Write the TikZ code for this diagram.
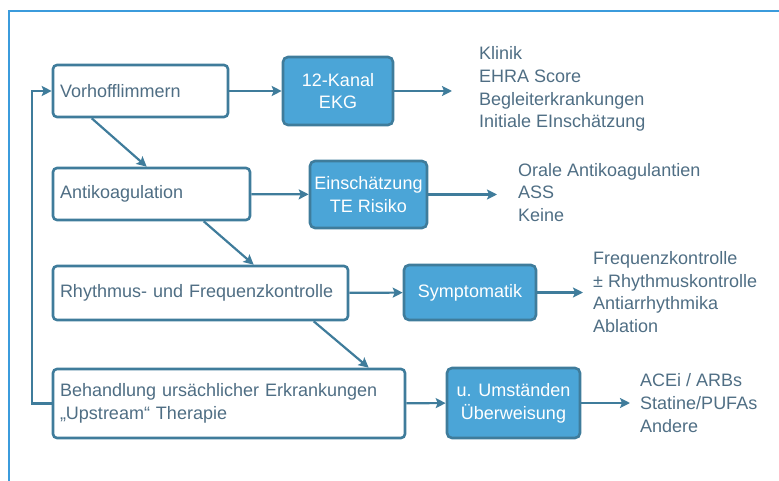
\documentclass[tikz,border=0pt]{standalone}
\usepackage{fontspec}
\setmainfont{Liberation Sans}
\usepackage[HTML]{xcolor}
\usetikzlibrary{positioning, arrows.meta}

\definecolor{frameblue}{HTML}{3B9BDC}
\definecolor{edgeblue}{HTML}{3F7C9B}
\definecolor{fillblue}{HTML}{4BA5D7}
\definecolor{txtgray}{HTML}{4F6E84}

\begin{document}
\begin{tikzpicture}[x=1pt, y=-1pt,
  font=\fontsize{18}{22.7}\selectfont,
  whitebox/.style={draw=edgeblue, line width=2.6pt, rounded corners=4pt, fill=white,
    text=txtgray, align=left, inner sep=0pt, text width=#1},
  bluebox/.style={draw=edgeblue, line width=2.6pt, rounded corners=5pt, fill=fillblue,
    text=white, align=center, inner sep=0pt},
  listtxt/.style={anchor=west, align=left, text=txtgray, inner sep=0pt},
  flow/.style={-{Stealth[length=10pt, width=10pt, inset=2pt]}, draw=edgeblue, line width=2.2pt}]

\useasboundingbox (0,0) rectangle (779,481);

% frame
\draw[frameblue, line width=2.2pt] (779,11) -- (9,11) -- (9,481);

% left column
\node[whitebox=161pt, minimum width=175pt, minimum height=52pt] (vhf) at (140.5,91) {Vorhofflimmern};
\node[whitebox=183pt, minimum width=197pt, minimum height=52pt] (antiko) at (151.5,194) {Antikoagulation};
\node[whitebox=281pt, minimum width=295pt, minimum height=54pt] (rhythm) at (200.5,293) {Rhythmus- und Frequenzkontrolle};
\node[whitebox=338pt, minimum width=352pt, minimum height=69pt] (behand) at (229,403.5) {Behandlung ursächlicher Erkrankungen\\„Upstream“ Therapie};

% blue boxes
\node[bluebox, minimum width=110pt, minimum height=68pt] (ekg) at (338,91) {12-Kanal\\EKG};
\node[bluebox, minimum width=117pt, minimum height=67pt] (terisk) at (368.5,194.5) {Einschätzung\\TE Risiko};
\node[bluebox, minimum width=132pt, minimum height=55pt] (sympt) at (470,292.5) {Symptomatik};
\node[bluebox, minimum width=133pt, minimum height=70pt] (uebw) at (513.5,403) {u. Umständen\\Überweisung};

% lists
\node[listtxt] (ekgtxt) at (479,89) {Klinik\\EHRA Score\\Begleiterkrankungen\\Initiale EInschätzung};
\node[listtxt] (terisktxt) at (518,192.5) {Orale Antikoagulantien\\ASS\\Keine};
\node[listtxt] (sympttxt) at (593,292) {Frequenzkontrolle\\± Rhythmuskontrolle\\Antiarrhythmika\\Ablation};
\node[listtxt] (uebwtxt) at (640,403) {ACEi / ARBs\\Statine/PUFAs\\Andere};

% horizontal arrows
\draw[flow] (vhf) -- (ekg);
\draw[flow] (antiko) -- (terisk);
\draw[flow] (rhythm) -- (sympt);
\draw[flow] (behand) -- (uebw);

\draw[flow, shorten >=27pt] (ekg.east) -- (ekgtxt.west |- ekg.east);
\draw[flow, shorten >=21pt] (terisk.east) -- (terisktxt.west |- terisk.east);
\draw[flow, shorten >=10pt] (sympt.east) -- (sympttxt.west |- sympt.east);
\draw[flow, shorten >=10pt] (uebw.east) -- (uebwtxt.west |- uebw.east);

% diagonal arrows
\draw[flow] ([xshift=40pt]vhf.south west) -- ([xshift=95pt]antiko.north west);
\draw[flow] ([xshift=152pt]antiko.south west) -- ([xshift=202pt]rhythm.north west);
\draw[flow] ([xshift=262pt]rhythm.south west) -- ([xshift=317pt]behand.north west);

% feedback loop
\draw[flow] (behand.west) -- ++(-20,0) |- (vhf.west);
\end{tikzpicture}
\end{document}
